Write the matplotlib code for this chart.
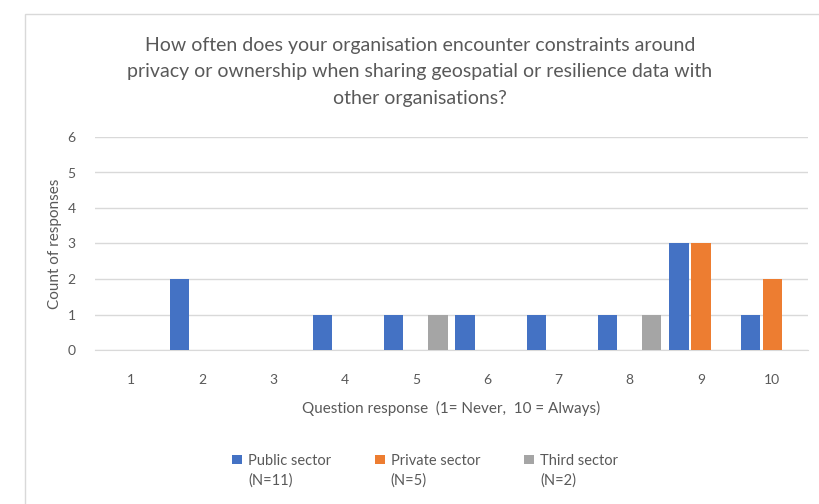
import matplotlib.pyplot as plt
import numpy as np
from matplotlib.patches import Rectangle
from matplotlib.container import BarContainer
from matplotlib.legend_handler import HandlerPatch, update_from_first_child

plt.rcParams['font.family'] = ['Lato', 'DejaVu Sans']

responses = ["1", "2", "3", "4", "5", "6", "7", "8", "9", "10"]
public = [0, 2, 0, 1, 1, 1, 1, 1, 3, 1]
private = [0, 0, 0, 0, 0, 0, 0, 0, 3, 2]
third = [0, 0, 0, 0, 1, 0, 0, 1, 0, 0]
series_labels = ["Public sector\n(N=11)", "Private sector\n(N=5)", "Third sector\n(N=2)"]
colors = ["#4472C4", "#ED7D31", "#A5A5A5"]

txt = "#595959"


def top_square(legend, orig_handle, xdescent, ydescent, width, height, fontsize):
    # legend square sits on the first line of the two-line label
    sq = 7
    return Rectangle((-xdescent, -ydescent + height - sq + 3), sq, sq)


fig = plt.figure(figsize=(8.2, 5.04), dpi=100)
# chart frame
fig.patches.append(Rectangle((25 / 820, -0.01), 1.0, 1 - 14 / 504 + 0.01, transform=fig.transFigure,
                             fill=False, edgecolor="#D9D9D9", linewidth=1.0))

ax = fig.add_axes([95 / 820, 1 - 350 / 504, 713 / 820, 213 / 504])
X = np.arange(len(responses))
w = 0.27
off = 0.31
ax.bar(X - off, public, width=w, color=colors[0], label=series_labels[0], zorder=3)
ax.bar(X, private, width=w, color=colors[1], label=series_labels[1], zorder=3)
ax.bar(X + off, third, width=w, color=colors[2], label=series_labels[2], zorder=3)

ax.set_xlim(-0.5, len(responses) - 0.5)
ax.set_ylim(0, 6)
ax.set_yticks(range(7))
ax.set_xticks(X)
ax.set_xticklabels(responses)
ax.yaxis.grid(True, color="#D9D9D9", linewidth=1.0, zorder=0)
for s in ["top", "right", "left"]:
    ax.spines[s].set_visible(False)
ax.spines["bottom"].set_color("#D9D9D9")
ax.tick_params(axis="both", length=0, colors=txt, labelsize=10)
ax.tick_params(axis="x", pad=17)
ax.tick_params(axis="y", pad=14)

ax.set_ylabel("Count of responses", color=txt, fontsize=11, labelpad=4)
ax.set_xlabel("Question response  (1= Never,  10 = Always)", color=txt, fontsize=11, labelpad=11)

fig.text(420 / 820, 1 - 72 / 504,
         "How often does your organisation encounter constraints around\n"
         "privacy or ownership when sharing geospatial or resilience data with\n"
         "other organisations?",
         ha="center", va="center", color=txt, fontsize=14, linespacing=1.66)

handler = HandlerPatch(patch_func=top_square, update_func=update_from_first_child)
leg = fig.legend(loc="center", bbox_to_anchor=(425 / 820, 1 - 471 / 504), ncol=3, frameon=False,
                 fontsize=10.5, labelcolor=txt, handlelength=0.7, handleheight=2.4,
                 handletextpad=0.4, columnspacing=3.0,
                 handler_map={BarContainer: handler})
for t in leg.get_texts():
    t.set_linespacing(1.45)

fig.savefig("out.png", dpi=100)
